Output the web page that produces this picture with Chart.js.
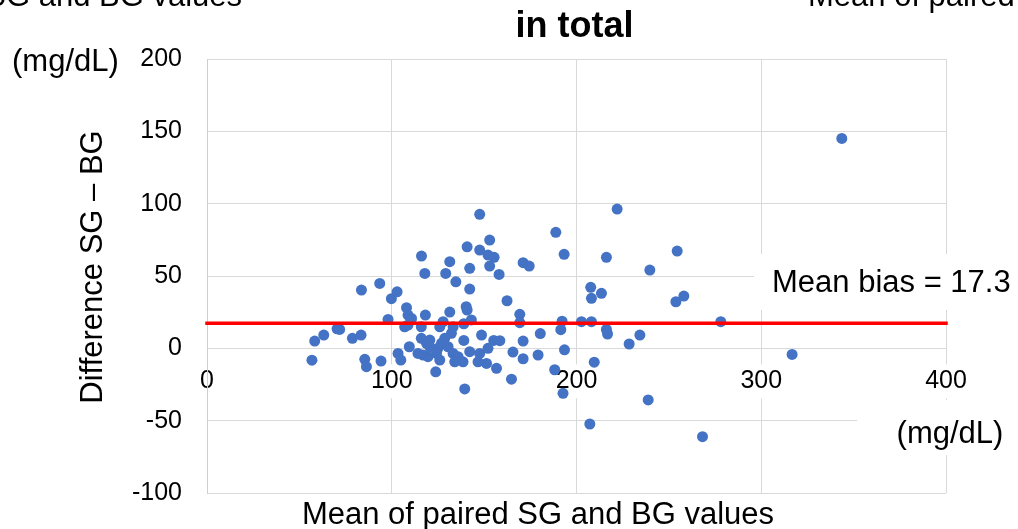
<!DOCTYPE html>
<html>
<head>
<meta charset="utf-8">
<script src="https://cdn.jsdelivr.net/npm/chart.js@4.4.1/dist/chart.umd.min.js"></script>
<style>
    html, body { margin: 0; padding: 0; background: #fff; }
    #wrap { width: 1018px; height: 529px; position: relative; }
</style>
</head>
<body>
<div id="wrap"><canvas id="baChart"></canvas></div>
<script>
// Bland-Altman data: mean of paired SG/BG (x) against SG - BG difference (y), mg/dL
const pairMeans = [
    56.8, 58.3, 63.2, 70.4, 71.8, 78.7, 83.4, 83.6, 85.4, 86.3,
    93.5, 94.2, 98.0, 99.8, 102.9, 103.4, 104.9, 108.0, 108.8, 110.7,
    107.0, 108.8, 109.5, 116.1, 117.9, 118.2, 116.0, 116.0, 118.8, 120.6,
    114.2, 116.9, 119.6, 123.8, 125.0, 126.9, 128.7, 126.0, 127.8, 129.2,
    131.4, 131.4, 130.5, 133.2, 135.9, 138.6, 134.1, 133.2, 139.0, 132.3,
    134.7, 139.0, 140.8, 142.2, 142.2, 140.3, 140.8, 143.1, 142.2, 139.5,
    147.6, 147.6, 148.6, 147.6, 146.7, 151.3, 153.0, 152.1, 155.4, 153.0,
    158.1, 152.1, 155.2, 158.5, 156.7, 162.4, 164.8, 165.6, 169.3, 169.3,
    171.1, 174.4, 171.1, 171.1, 179.2, 180.4, 188.8, 193.3, 192.2, 191.5,
    193.5, 188.2, 192.7, 202.7, 208.1, 207.7, 208.1, 213.5, 209.6, 207.2,
    216.2, 222.0, 216.2, 216.8, 228.5, 234.3, 238.8, 239.7, 254.5, 253.8,
    258.1, 268.2, 278.1, 316.7, 343.6, 120.6, 124.2, 126.0
];
const pairDiffs = [
    -8.2, 5.0, 9.2, 13.5, 13.1, 6.9, 9.2, 40.3, -7.6, -12.7,
    44.9, -8.8, 20.0, 34.3, 39.1, -3.5, -8.1, 28.1, 23.0, 20.7,
    14.9, 16.1, 1.1, 63.8, 51.8, 23.0, 14.9, 6.9, 3.5, 5.7,
    -3.5, -4.6, -5.8, -16.2, 0.0, 3.5, 6.9, 14.9, 18.4, 51.8,
    59.9, 25.1, 1.1, -3.5, -5.8, -9.3, -9.3, 14.9, 17.0, 10.4,
    46.0, 5.5, 70.2, 55.3, 41.0, 28.8, 26.5, 19.6, -2.3, -28.1,
    92.6, 67.9, 9.2, -3.5, -9.3, -10.4, 74.8, 64.5, 62.9, 56.9,
    51.1, 0.0, 5.5, 5.3, -13.8, 32.9, -21.3, -2.6, 23.5, 17.7,
    59.2, 56.9, 5.0, -7.2, -4.6, 10.2, 80.2, 65.0, 18.8, 12.9,
    -1.0, -14.8, -31.1, 18.4, 18.4, 42.2, 34.6, 38.0, -9.6, -52.3,
    62.9, 96.3, 13.1, 9.9, 3.0, 9.2, -35.7, 54.1, 67.2, 32.2,
    36.1, -61.1, 18.4, -4.2, 145.1, 1.1, -3.5, -8.1
];
const meanBias = 17.3;

const xLimits = [0, 400];
const yLimits = [-100, 200];
const xStep = 100;
const yStep = 50;

const titleText = 'in total';
const xTitle = 'Mean of paired SG and BG values';
const yTitle = 'Difference SG \u2013 BG';
const unitText = '(mg/dL)';
const biasText = 'Mean bias = ' + meanBias.toFixed(1);

const FONT = "'Liberation Sans', Arial, sans-serif";
const GRID = '#d9d9d9';

const points = pairMeans.map((m, i) => ({ x: m, y: pairDiffs[i] }));

// labels around the plot, drawn straight onto the canvas
const chartText = {
    id: 'chartText',
    afterDraw(chart) {
        const { ctx, chartArea } = chart;
        const cx = (chartArea.left + chartArea.right) / 2;
        ctx.save();
        ctx.fillStyle = '#000';
        ctx.textBaseline = 'alphabetic';

        ctx.font = 'bold 36px ' + FONT;
        ctx.textAlign = 'center';
        ctx.fillText(titleText, cx - 2, 37);

        // cut-off captions from the neighbouring panels
        ctx.font = '31px ' + FONT;
        ctx.textAlign = 'right';
        ctx.fillText(xTitle, 242, 6);
        ctx.textAlign = 'left';
        ctx.fillText(xTitle, 808, 6);

        ctx.textAlign = 'left';
        ctx.fillText(unitText, 12, 71);

        ctx.textAlign = 'center';
        ctx.fillText(xTitle, 538, 524);

        ctx.save();
        ctx.translate(93, 267);
        ctx.rotate(-Math.PI / 2);
        ctx.textAlign = 'center';
        ctx.textBaseline = 'middle';
        ctx.fillText(yTitle, 0, 0);
        ctx.restore();

        // unit box at the lower right
        ctx.fillStyle = '#fff';
        ctx.fillRect(857, 400, 161, 55);
        ctx.fillStyle = '#000';
        ctx.textAlign = 'center';
        ctx.fillText(unitText, 950, 443);

        // mean bias label box
        ctx.fillStyle = '#fff';
        ctx.fillRect(754, 254, 264, 56);
        ctx.fillStyle = '#000';
        ctx.textAlign = 'left';
        ctx.fillText(biasText, 772, 292);

        ctx.restore();
    }
};

new Chart(document.getElementById('baChart'), {
    type: 'scatter',
    data: {
        datasets: [
            {
                type: 'line',
                label: 'Mean bias',
                data: [{ x: xLimits[0], y: meanBias }, { x: xLimits[1], y: meanBias }],
                borderColor: '#ff0000',
                borderWidth: 3.5,
                pointRadius: 0,
                borderCapStyle: 'square',
                clip: false
            },
            {
                label: 'SG - BG',
                data: points,
                backgroundColor: '#4472c4',
                borderWidth: 0,
                pointRadius: 5.5,
                pointHoverRadius: 5.5
            }
        ]
    },
    options: {
        responsive: true,
        maintainAspectRatio: false,
        animation: false,
        devicePixelRatio: 1,
        layout: { padding: { left: 107, right: 72, top: 59, bottom: 36 } },
        plugins: {
            legend: { display: false },
            title: { display: false },
            tooltip: { enabled: false }
        },
        scales: {
            x: {
                type: 'linear',
                position: { y: 0 },
                min: xLimits[0],
                max: xLimits[1],
                ticks: {
                    stepSize: xStep,
                    color: '#000',
                    font: { family: FONT, size: 25 },
                    padding: 18,
                    maxRotation: 0,
                    showLabelBackdrop: true,
                    backdropColor: '#fff',
                    backdropPadding: 2
                },
                grid: { color: GRID, lineWidth: 1, drawTicks: false },
                border: { color: GRID, width: 1 }
            },
            y: {
                type: 'linear',
                min: yLimits[0],
                max: yLimits[1],
                afterFit(scale) {
                    // fixed axis width; tick padding should not shrink the plot height
                    scale.width = 100;
                    scale.paddingTop = 0;
                    scale.paddingBottom = 0;
                },
                ticks: {
                    stepSize: yStep,
                    color: '#000',
                    font: { family: FONT, size: 25 },
                    padding: 25
                },
                grid: { color: GRID, lineWidth: 1, drawTicks: false },
                border: { color: '#cfcfcf', width: 1 }
            }
        }
    },
    plugins: [chartText]
});
</script>
</body>
</html>
